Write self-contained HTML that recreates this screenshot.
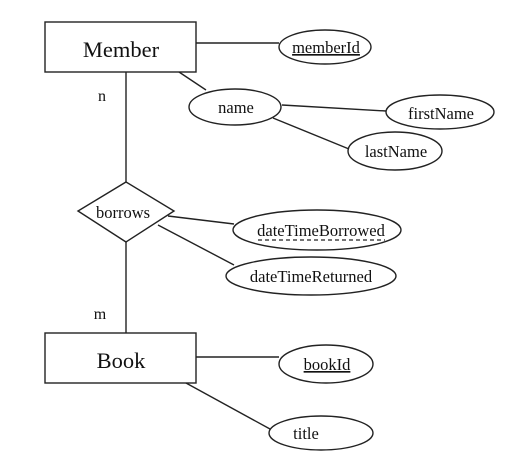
<!DOCTYPE html>
<html><head><meta charset="utf-8"><style>
html,body{margin:0;padding:0;background:#fff;}
svg{display:block;}
text{font-family:"Liberation Serif",serif;fill:#111;}
</style></head><body>
<svg width="513" height="475" viewBox="0 0 513 475" xmlns="http://www.w3.org/2000/svg">
<g stroke="#222" stroke-width="1.4" fill="none">
<rect x="45" y="22" width="151" height="50"/>
<rect x="45" y="333" width="151" height="50"/>
<ellipse cx="325" cy="47" rx="46" ry="17"/>
<ellipse cx="235" cy="107" rx="46" ry="18"/>
<ellipse cx="440" cy="112" rx="54" ry="17"/>
<ellipse cx="395" cy="151" rx="47" ry="19"/>
<ellipse cx="317" cy="230" rx="84" ry="20"/>
<ellipse cx="311" cy="276" rx="85" ry="19"/>
<ellipse cx="326" cy="364" rx="47" ry="19"/>
<ellipse cx="321" cy="433" rx="52" ry="17"/>
<polygon points="126,182 174,211 126,242 78,211"/>
<line x1="196" y1="43" x2="279" y2="43"/>
<line x1="179" y1="72" x2="206" y2="90"/>
<line x1="282" y1="105" x2="386" y2="111"/>
<line x1="273" y1="118" x2="349" y2="149"/>
<line x1="126" y1="72" x2="126" y2="182"/>
<line x1="168" y1="216" x2="234" y2="224"/>
<line x1="158" y1="225" x2="234" y2="265"/>
<line x1="126" y1="242" x2="126" y2="333"/>
<line x1="196" y1="357" x2="279" y2="357"/>
<line x1="186" y1="383" x2="270" y2="429"/>
</g>
<g text-anchor="middle">
<text x="121" y="57" font-size="22.5">Member</text>
<text x="121" y="368" font-size="22.5">Book</text>
<text x="326" y="53" font-size="16.5" text-decoration="underline">memberId</text>
<text x="236" y="113" font-size="16.5">name</text>
<text x="441" y="119" font-size="16.5">firstName</text>
<text x="396" y="157" font-size="16.5">lastName</text>
<text x="123" y="218" font-size="16.5">borrows</text>
<text x="321" y="236" font-size="16.5">dateTimeBorrowed</text>
<text x="311" y="282" font-size="16.5">dateTimeReturned</text>
<text x="327" y="370" font-size="16.5" text-decoration="underline">bookId</text>
<text x="306" y="439" font-size="16.5">title</text>
<text x="102" y="101" font-size="16">n</text>
<text x="100" y="319" font-size="16">m</text>
</g>
<line x1="258" y1="240" x2="385" y2="240" stroke="#222" stroke-width="1.3" stroke-dasharray="4,3"/>
</svg>
</body></html>
